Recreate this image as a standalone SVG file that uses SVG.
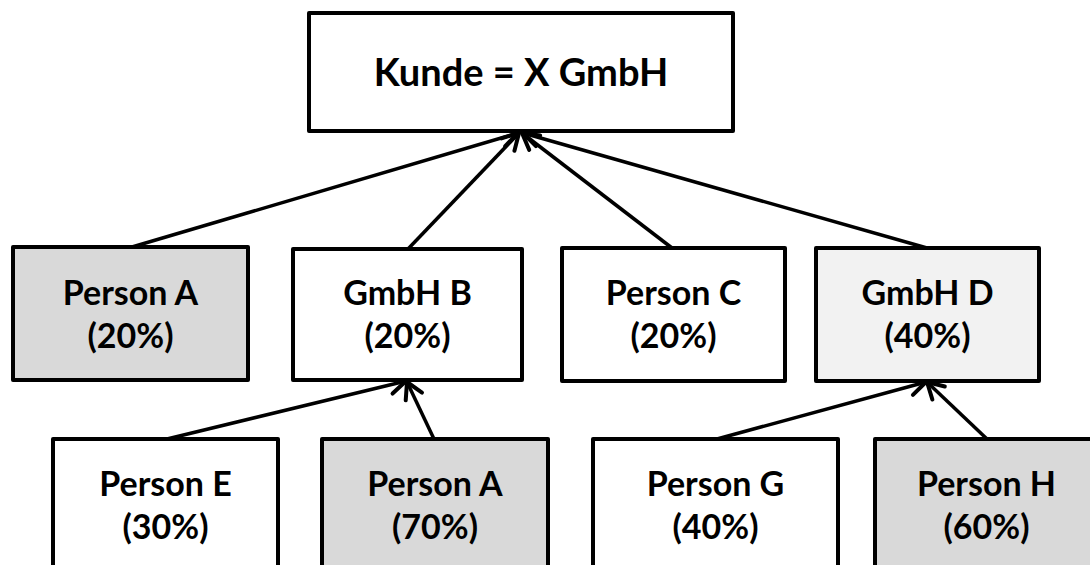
<svg xmlns="http://www.w3.org/2000/svg" width="1090" height="565" viewBox="0 0 1090 565">
  <style>
    .box { stroke: #000; stroke-width: 4; stroke-linejoin: round; }
    .w { fill: #ffffff; }
    .g { fill: #d9d9d9; }
    .lg { fill: #f2f2f2; }
    .t { font-family: Lato, "Open Sans", "Liberation Sans", sans-serif; font-weight: bold; font-size: 34px; fill: #000; text-anchor: middle; }
    .tt { font-size: 38px; }
    .c { stroke: #000; stroke-width: 3.5; fill: none; marker-end: url(#arr); }
  </style>
  <defs>
    <marker id="arr" viewBox="-20 -12 24 24" markerWidth="24" markerHeight="24" refX="0" refY="0" orient="auto" markerUnits="userSpaceOnUse">
      <path d="M-16,-9 L0,0 L-16,9" fill="none" stroke="#000" stroke-width="4" stroke-linecap="round" stroke-linejoin="round"/>
    </marker>
  </defs>
  <rect width="1090" height="565" fill="#ffffff"/>

  <g id="connectors">
    <line class="c" x1="132" y1="247" x2="518" y2="133"/>
    <line class="c" x1="408" y1="249" x2="519" y2="133"/>
    <line class="c" x1="672" y1="248" x2="522" y2="133"/>
    <line class="c" x1="927" y1="248" x2="523" y2="133"/>
    <line class="c" x1="167" y1="439" x2="406" y2="381"/>
    <line class="c" x1="434" y1="439" x2="407" y2="382"/>
    <line class="c" x1="717" y1="439" x2="926" y2="382"/>
    <line class="c" x1="987" y1="439" x2="927" y2="382"/>
  </g>

  <g id="kunde">
    <rect class="box w" x="309" y="13" width="424" height="118"/>
    <text class="t tt" x="521" y="86">Kunde = X GmbH</text>
  </g>

  <g id="personA">
    <rect class="box g" x="13" y="247" width="235" height="133"/>
    <text class="t" x="130.5" y="305">Person A</text>
    <text class="t" x="130.5" y="348">(20%)</text>
  </g>

  <g id="gmbhB">
    <rect class="box w" x="293" y="249" width="229" height="131"/>
    <text class="t" x="407.5" y="305">GmbH B</text>
    <text class="t" x="407.5" y="348">(20%)</text>
  </g>

  <g id="personC">
    <rect class="box w" x="562" y="248" width="223" height="133"/>
    <text class="t" x="673.5" y="305">Person C</text>
    <text class="t" x="673.5" y="348">(20%)</text>
  </g>

  <g id="gmbhD">
    <rect class="box lg" x="816" y="248" width="223" height="133"/>
    <text class="t" x="927.5" y="305">GmbH D</text>
    <text class="t" x="927.5" y="348">(40%)</text>
  </g>

  <g id="personE">
    <rect class="box w" x="53" y="439" width="225" height="140"/>
    <text class="t" x="165.5" y="496">Person E</text>
    <text class="t" x="165.5" y="539">(30%)</text>
  </g>

  <g id="personA70">
    <rect class="box g" x="322" y="439" width="226" height="140"/>
    <text class="t" x="435" y="496">Person A</text>
    <text class="t" x="435" y="539">(70%)</text>
  </g>

  <g id="personG">
    <rect class="box w" x="593" y="439" width="245" height="140"/>
    <text class="t" x="715.5" y="496">Person G</text>
    <text class="t" x="715.5" y="539">(40%)</text>
  </g>

  <g id="personH">
    <rect class="box g" x="875" y="439" width="223" height="140"/>
    <text class="t" x="986.5" y="496">Person H</text>
    <text class="t" x="986.5" y="539">(60%)</text>
  </g>
</svg>
